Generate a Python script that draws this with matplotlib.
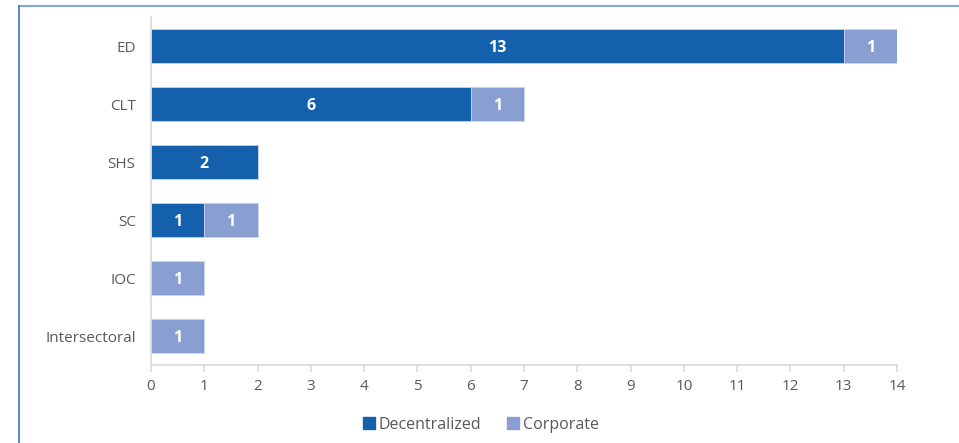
import matplotlib
matplotlib.use("Agg")
import matplotlib.pyplot as plt
from matplotlib.lines import Line2D
import numpy as np

categories = ["ED", "CLT", "SHS", "SC", "IOC", "Intersectoral"]
decentralized = [13, 6, 2, 1, 0, 0]
corporate = [1, 1, 0, 1, 1, 1]
xticks = list(range(0, 15))

dark = "#1560AC"
light = "#8A9FD1"
gray = "#595959"

plt.rcParams['font.family'] = ['Open Sans', 'DejaVu Sans']

fig = plt.figure(figsize=(9.59, 4.43), dpi=100)
ax = fig.add_axes([151/959, 1-365/443, (897-151)/959, (365-17)/443])

y = np.arange(len(categories))
h = 0.59
ax.barh(y, decentralized, height=h, color=dark, edgecolor="#C8D4EC", linewidth=0.6, label="Decentralized")
ax.barh(y, corporate, left=decentralized, height=h, color=light, edgecolor="#C8D4EC", linewidth=0.6, label="Corporate")

for i in range(len(categories)):
    d = decentralized[i]; c = corporate[i]
    if d > 0:
        ax.text(d/2, y[i], str(d), ha="center", va="center_baseline", color="white", fontsize=11.5, fontweight="bold")
    if c > 0:
        ax.text(d + c/2, y[i], str(c), ha="center", va="center_baseline", color="white", fontsize=11.5, fontweight="bold")

ax.set_ylim(len(categories)-0.5, -0.5)
ax.set_xlim(0, 14)
ax.set_xticks(xticks)
ax.set_yticks(y)
ax.set_yticklabels(categories)
ax.tick_params(axis="y", length=0, pad=11, labelsize=11, labelcolor=gray)
ax.tick_params(axis="x", length=5, color="#D9D9D9", width=1.2, pad=5, labelsize=11, labelcolor=gray)
for s in ["top", "right"]:
    ax.spines[s].set_visible(False)
for s in ["left", "bottom"]:
    ax.spines[s].set_color("#D9D9D9")
    ax.spines[s].set_linewidth(1.2)

handles = [Line2D([], [], marker="s", linestyle="none", markersize=9, color=dark, label="Decentralized"),
           Line2D([], [], marker="s", linestyle="none", markersize=9, color=light, label="Corporate")]
leg = fig.legend(handles=handles, loc="center", bbox_to_anchor=(480/959, 1-425/443), ncol=2, frameon=False,
                 fontsize=11.5, handletextpad=0.1, columnspacing=1.5, handlelength=1.0)
for t in leg.get_texts():
    t.set_color(gray)

# frame lines
fig.add_artist(Line2D([19/959, 1], [1-6/443, 1-6/443], color="#7FA6DA", linewidth=1.5))
fig.add_artist(Line2D([19/959, 19/959], [0, 1-6/443], color="#3A74C0", linewidth=1.2))

fig.savefig("out.png", dpi=100)
